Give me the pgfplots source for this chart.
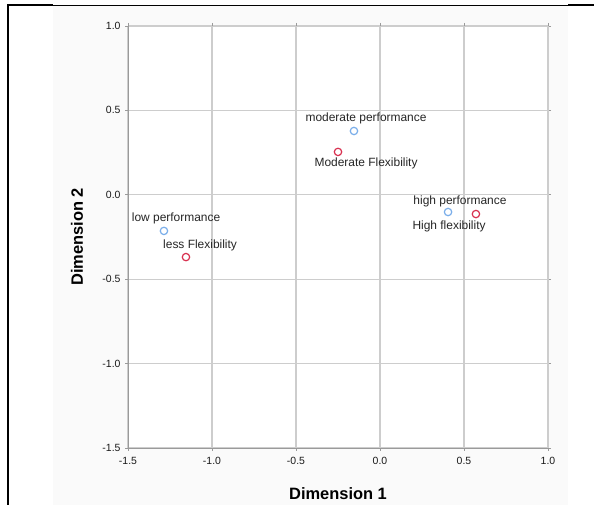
\documentclass[border=0pt]{standalone}
\usepackage{pgfplots}
\pgfplotsset{compat=1.18}
\usepackage{fontspec}
\setmainfont{Liberation Sans}
\definecolor{ptblue}{HTML}{7AAEEA}
\definecolor{ptred}{HTML}{D8304F}
\definecolor{gridc}{HTML}{CDCDCD}
\definecolor{axc}{HTML}{9A9A9A}
\definecolor{bgc}{HTML}{FAFAFA}
\begin{document}
\begin{tikzpicture}[x=1bp,y=1bp]
\useasboundingbox (0,0) rectangle (594,505);
\fill[bgc] (53,0) rectangle (568,499.5);
\draw[black,line width=0.9bp] (7,500) -- (594,500);
\draw[black,line width=2.2bp] (7,500) -- (53,500);
\draw[black,line width=2.2bp] (568,500) -- (594,500);
\draw[black,line width=2.2bp] (8,0) -- (8,501);
\begin{axis}[
  at={(128bp,57bp)}, anchor=south west,
  scale only axis, width=420bp, height=422bp,
  xmin=-1.5, xmax=1.0, ymin=-1.5, ymax=1.0,
  xtick={-1.5,-1.0,-0.5,0.0,0.5,1.0},
  ytick={-1.5,-1.0,-0.5,0.0,0.5,1.0},
  /pgf/number format/fixed,
  /pgf/number format/fixed zerofill,
  /pgf/number format/precision=1,
  /pgf/number format/assume math mode=true,
  ticklabel style={font=\fontsize{10.5}{12}\selectfont, text=black!90},
  tick align=outside, tick style={axc, line width=0.6bp}, major tick length=3bp,
  grid=major, major grid style={gridc, line width=1.1bp},
  axis line style={draw=none},
  axis background/.style={fill=white},
  xlabel={\bfseries Dimension 1}, ylabel={\bfseries Dimension 2},
  every axis x label/.style={at={(axis description cs:0.5,-0.109)}, anchor=center, font=\fontsize{16.5}{18}\selectfont},
  every axis y label/.style={at={(axis description cs:-0.1214,0.5)}, rotate=90, anchor=center, font=\fontsize{16.5}{18}\selectfont},
  yticklabel style={xshift=-1bp},
  xticklabel style={yshift=-3bp},
  clip=false,
]
\draw[gridc, line width=0.9bp] (rel axis cs:0,1) -- (rel axis cs:1,1) -- (rel axis cs:1,0);
\draw[axc, line width=0.9bp] (rel axis cs:0,1) -- (rel axis cs:0,0) -- (rel axis cs:1,0);
\addplot[only marks, mark=o, mark size=3.7bp, ptblue, line width=1.2bp]
  coordinates {(-1.286,-0.214) (-0.155,0.378) (0.405,-0.102)};
\addplot[only marks, mark=o, mark size=3.7bp, ptred, line width=1.2bp]
  coordinates {(-1.155,-0.369) (-0.25,0.254) (0.571,-0.114)};
\begin{scope}[every node/.style={font=\fontsize{12}{14}\selectfont, text=black!85, anchor=center, inner sep=0pt}]
\node at (axis cs:-1.214,-0.137) {low performance};
\node at (axis cs:-1.071,-0.297) {less Flexibility};
\node at (axis cs:-0.083,0.455) {moderate performance};
\node at (axis cs:-0.083,0.188) {Moderate Flexibility};
\node at (axis cs:0.476,-0.037) {high performance};
\node at (axis cs:0.411,-0.185) {High flexibility};
\end{scope}
\end{axis}
\end{tikzpicture}
\end{document}
